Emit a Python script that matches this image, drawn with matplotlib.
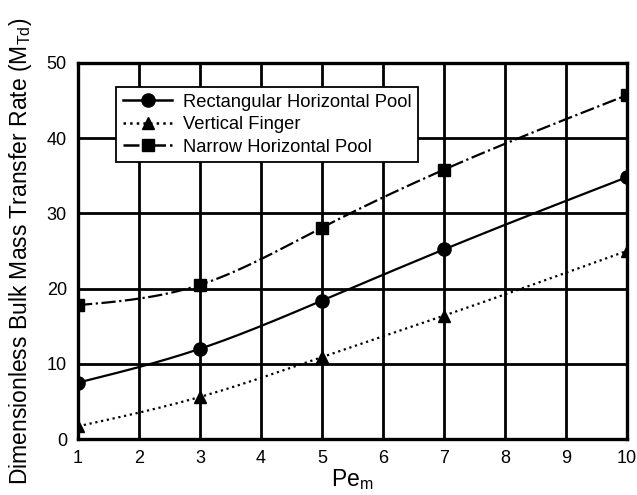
import numpy as np
import matplotlib
matplotlib.use("Agg")
import matplotlib.pyplot as plt

plt.rcParams['font.family'] = ['Liberation Sans', 'DejaVu Sans']

pe_m = [1, 3, 5, 7, 10]
rect_horizontal = [7.5, 12.0, 18.4, 25.2, 34.8]
vertical_finger = [1.7, 5.6, 10.9, 16.4, 25.0]
narrow_horizontal = [17.8, 20.5, 28.1, 35.8, 45.7]
x_ticks = [1, 2, 3, 4, 5, 6, 7, 8, 9, 10]
y_ticks = [0, 10, 20, 30, 40, 50]


def smooth(x, y, n=200):
    """Natural cubic spline through the given points for a smooth trace."""
    x = np.asarray(x, float)
    y = np.asarray(y, float)
    k = len(x)
    h = np.diff(x)
    A = np.zeros((k, k))
    b = np.zeros(k)
    A[0, 0] = A[-1, -1] = 1
    for i in range(1, k - 1):
        A[i, i - 1] = h[i - 1]
        A[i, i] = 2 * (h[i - 1] + h[i])
        A[i, i + 1] = h[i]
        b[i] = 6 * ((y[i + 1] - y[i]) / h[i] - (y[i] - y[i - 1]) / h[i - 1])
    m = np.linalg.solve(A, b)
    xs = np.linspace(x[0], x[-1], n)
    idx = np.clip(np.searchsorted(x, xs) - 1, 0, k - 2)
    x0, x1 = x[idx], x[idx + 1]
    hh = x1 - x0
    t0, t1 = x1 - xs, xs - x0
    ys = (m[idx] * t0 ** 3 / (6 * hh) + m[idx + 1] * t1 ** 3 / (6 * hh)
          + (y[idx] / hh - m[idx] * hh / 6) * t0
          + (y[idx + 1] / hh - m[idx + 1] * hh / 6) * t1)
    return xs, ys


fig = plt.figure(figsize=(6.37, 4.95), dpi=100)
ax = fig.add_axes([0.1225, 0.113, 0.8615, 0.76])

series = [
    (rect_horizontal, 'Rectangular Horizontal Pool', '-', 'o', 9.5),
    (vertical_finger, 'Vertical Finger', ':', '^', 8.5),
    (narrow_horizontal, 'Narrow Horizontal Pool', '-.', 's', 8.5),
]
for vals, label, ls, mk, ms in series:
    xs, ys = smooth(pe_m, vals)
    ax.plot(xs, ys, color='black', linestyle=ls, linewidth=1.6, zorder=3)
    ax.plot(pe_m, vals, linestyle='none', marker=mk, markersize=ms,
            color='black', zorder=4)
    ax.plot([], [], color='black', linestyle=ls, linewidth=1.8, marker=mk,
            markersize=ms, label=label)

ax.set_xlim(1, 10)
ax.set_ylim(0, 50)
ax.set_xticks(x_ticks)
ax.set_yticks(y_ticks)
ax.grid(True, color='black', linewidth=2)
ax.set_axisbelow(True)
for s in ax.spines.values():
    s.set_linewidth(2.4)
ax.tick_params(length=0, labelsize=13, pad=8)

ax.set_xlabel('Pe$_\\mathregular{m}$', fontsize=16.5, labelpad=0)
ax.set_ylabel('Dimensionless Bulk Mass Transfer Rate (M$_\\mathregular{Td}$)',
              fontsize=16.5, labelpad=9)

leg = ax.legend(loc='upper left', bbox_to_anchor=(0.07, 0.935), fontsize=13.2,
                frameon=True, fancybox=False, edgecolor='black',
                handlelength=2.7, borderpad=0.35, labelspacing=0.3,
                handletextpad=0.6, borderaxespad=0)
leg.get_frame().set_linewidth(1.3)
leg.get_frame().set_alpha(1)
leg.set_zorder(5)

fig.savefig('out.png', dpi=100)
